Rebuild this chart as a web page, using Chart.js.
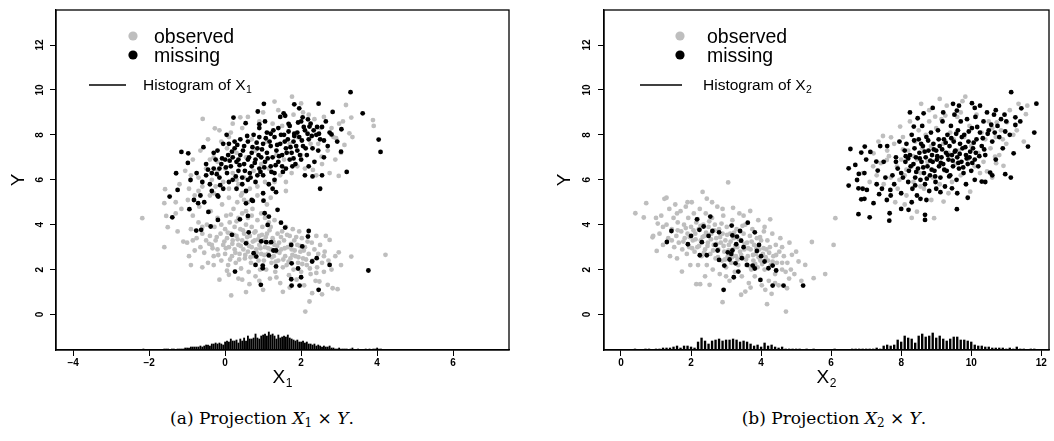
<!DOCTYPE html>
<html>
<head>
<meta charset="utf-8">
<script src="https://cdn.jsdelivr.net/npm/chart.js@4.4.1/dist/chart.umd.min.js"></script>
<style>
  html, body { margin: 0; padding: 0; background: #fff; }
  body { width: 1054px; height: 441px; position: relative; overflow: hidden; }
  .panel { position: absolute; top: 0; width: 527px; height: 400px; }
  .caption {
    position: absolute; top: 408px; width: 400px; text-align: center;
    font-family: "DejaVu Serif", "Liberation Serif", serif; font-size: 17px; color: #000;
  }
  .caption sub { font-size: 12px; vertical-align: -3px; line-height: 0; }
</style>
</head>
<body>
<div class="panel" style="left:0"><canvas id="chart1" width="527" height="400"></canvas></div>
<div class="panel" style="left:527px"><canvas id="chart2" width="527" height="400"></canvas></div>
<div class="caption" style="left:62px">(a) Projection <i>X</i><sub>1</sub> × <i>Y</i>.</div>
<div class="caption" style="left:634px">(b) Projection <i>X</i><sub>2</sub> × <i>Y</i>.</div>

<script>
// ---- data ----
const yTicks = [0, 2, 4, 6, 8, 10, 12];
const x1Ticks = [-4, -2, 0, 2, 4, 6];
const x2Ticks = [0, 2, 4, 6, 8, 10, 12];

// panel (a): X1 x Y, observed (grey)
const observed1 = [
  [-2.18,4.29],[-1.6,3.0],[-1.6,4.96],[-1.58,5.58],[-1.55,4.39],[-1.51,3.89],[-1.3,4.5],[-1.1,3.25],[-1.0,3.2],[-0.95,2.6],
  [-0.9,3.8],[-0.85,4.4],[-0.8,2.85],[-0.75,3.4],[-0.7,4.1],[-0.65,3.0],[-0.6,3.6],[-0.55,2.75],[-0.5,3.3],[-0.48,4.0],
  [-0.45,2.3],[-0.4,3.5],[-0.38,4.6],[-0.35,3.1],[-0.3,2.6],[-0.28,3.9],[-0.25,3.3],[-0.2,4.3],[-0.2,2.9],[-0.15,1.55],
  [-0.12,3.6],[-0.1,2.4],[-0.08,4.9],[-0.05,3.1],[0.0,3.8],[0.0,2.7],[0.03,4.4],[0.05,3.4],[0.08,2.2],[0.1,3.0],
  [0.1,1.77],[0.12,4.1],[0.15,3.6],[0.16,0.85],[0.18,2.6],[0.2,3.3],[0.22,4.7],[0.25,2.9],[0.25,3.9],[0.28,2.3],
  [0.3,3.5],[0.32,5.0],[0.35,3.1],[0.35,4.3],[0.38,2.7],[0.4,3.8],[0.42,2.05],[0.45,3.3],[0.45,4.5],[0.48,2.9],
  [0.5,3.6],[0.5,5.1],[0.52,2.5],[0.55,4.0],[0.57,3.2],[0.6,2.8],[0.6,4.3],[0.62,1.9],[0.64,1.35],[0.65,3.5],
  [0.68,2.3],[0.7,3.0],[0.7,3.9],[0.72,4.7],[0.75,2.6],[0.78,3.3],[0.8,3.7],[0.8,1.7],[0.82,2.9],[0.85,4.2],
  [0.88,2.4],[0.9,3.1],[0.9,3.5],[0.92,2.0],[0.95,2.7],[0.98,3.9],[1.0,3.3],[1.0,1.1],[1.02,2.4],[1.05,3.0],
  [1.05,4.3],[1.08,2.0],[1.1,3.6],[1.12,2.7],[1.15,3.2],[1.18,1.6],[1.2,2.9],[1.2,3.9],[1.22,2.3],[1.25,3.4],
  [1.28,2.6],[1.3,3.1],[1.3,4.2],[1.32,1.9],[1.35,2.8],[1.38,3.6],[1.4,2.4],[1.42,3.2],[1.45,1.4],[1.48,2.9],
  [1.5,3.7],[1.52,1.01],[1.52,2.1],[1.55,3.3],[1.58,2.6],[1.6,3.9],[1.62,2.2],[1.65,3.0],[1.68,1.75],[1.7,3.5],
  [1.72,2.5],[1.75,2.9],[1.78,3.8],[1.8,2.0],[1.82,3.3],[1.85,2.6],[1.88,1.55],[1.9,3.1],[1.92,2.3],[1.95,3.7],
  [1.98,2.8],[2.0,1.9],[2.02,3.4],[2.05,2.5],[2.08,1.3],[2.1,3.0],[2.11,0.13],[2.15,2.2],[2.18,3.5],[2.2,2.7],
  [2.22,0.58],[2.25,1.8],[2.28,3.2],[2.29,0.95],[2.3,2.4],[2.35,2.9],[2.38,1.5],[2.4,3.5],[2.42,2.1],[2.45,2.7],
  [2.48,1.47],[2.5,3.1],[2.55,2.3],[2.6,1.9],[2.62,2.8],[2.65,3.5],[2.7,1.32],[2.72,2.4],[2.75,3.32],[2.8,2.0],
  [2.83,1.17],[2.9,2.6],[2.96,1.13],[2.99,2.77],[3.05,2.2],[3.32,2.58],[4.22,2.66],[-1.25,3.7],[-1.15,4.7],[-0.98,5.1],
  [-0.68,4.8],[-0.3,5.4],[0.1,5.2],[0.42,5.3],[0.6,5.0],[0.85,5.3],[1.1,4.9],[-0.9,2.2],[-0.6,2.1],[0.35,1.6],
  [0.55,1.0],[1.7,1.2],[2.55,0.9],
  [-0.42,3.15],[-0.33,2.95],[-0.22,3.45],[-0.18,2.65],[-0.02,3.25],[0.02,2.95],[0.07,3.65],[0.13,2.45],[0.19,3.15],[0.23,3.55],
  [0.27,2.75],[0.33,3.35],[0.37,2.45],[0.41,3.05],[0.47,3.75],[0.53,2.65],[0.58,3.45],[0.63,3.05],[0.67,2.55],[0.73,3.25],
  [0.77,3.65],[0.83,2.75],[0.87,3.35],[0.93,2.95],[0.97,3.55],[1.03,2.65],[1.07,3.45],[1.13,2.95],[1.17,3.75],[1.23,2.55],
  [1.27,3.25],[1.33,2.35],[1.37,3.05],[1.43,2.75],[1.47,3.45],[1.53,2.45],[1.57,2.95],[1.63,3.55],[1.67,2.35],[1.73,3.15],
  [1.77,2.65],[1.83,2.85],[1.87,3.45],[1.93,2.55],[1.97,3.05],[2.03,2.25],[2.07,2.85],[2.13,2.45],[2.17,3.25],[2.23,2.05],
  [0.15,4.45],[0.55,4.6],[0.95,4.5],[-0.1,4.0],[0.3,4.15],[0.7,4.4],[1.15,4.1],[-0.6,3.9],[-0.85,3.3],[-0.3,2.2],
  [0.05,1.95],[0.45,1.55],[0.9,1.5],[1.35,1.65],[2.4,1.85],[2.6,2.6],
  [-0.59,8.71],[-0.27,8.29],[0.4,8.78],[1.3,9.48],[1.76,9.7],[2.0,9.4],[3.18,9.33],[3.32,8.77],[3.27,8.07],[3.89,8.66],
  [3.91,8.4],[3.14,7.55],[2.92,7.85],[2.54,7.03],[2.31,6.44],[2.99,6.17],[-1.3,5.0],[-1.2,5.8],[-1.05,6.4],[-0.95,5.6],
  [-0.85,6.9],[-0.8,5.3],[-0.7,6.1],[-0.65,7.3],[-0.6,5.7],[-0.5,6.5],[-0.45,7.8],[-0.4,5.3],[-0.35,6.0],[-0.3,7.0],
  [-0.25,5.7],[-0.2,6.4],[-0.1,7.7],[-0.05,5.9],[0.0,6.5],[0.05,7.4],[0.1,5.6],[0.15,8.1],[0.2,6.3],[0.3,7.2],
  [0.35,5.8],[0.45,8.3],[0.5,6.1],[0.55,7.0],[0.65,5.6],[0.7,7.8],[0.75,6.4],[0.85,5.7],[0.9,8.6],[0.95,6.7],
  [1.05,5.9],[1.1,7.7],[1.15,6.5],[1.25,8.5],[1.3,5.9],[1.35,7.1],[1.45,6.2],[1.5,8.4],[1.55,6.9],[1.6,5.9],
  [1.7,7.6],[1.75,6.3],[1.8,8.9],[1.9,6.6],[2.0,7.1],[2.05,9.0],[2.1,6.5],[2.2,8.9],[2.25,7.6],[2.35,8.7],
  [2.4,6.2],[2.5,8.3],[2.55,6.7],[2.6,8.8],[2.7,7.3],[2.75,6.3],[2.85,7.9],[2.9,6.9],[3.0,8.5],[3.05,7.2],
  [3.1,8.6],[1.4,9.1],[0.6,8.8],[0.2,8.5],[-0.15,8.2],[1.2,5.2],[1.6,5.5],[0.45,5.4],
  [-0.9,6.2],[-0.7,5.5],[-0.2,6.8],[0.3,6.0],[0.8,7.3],[1.9,7.9],[2.45,7.6],[2.8,8.3],[3.35,7.9],[1.0,9.0],
  [0.1,7.9],[-0.4,6.9]
];

// panel (a): missing (black)
const missing1 = [
  [3.3,9.9],[1.02,9.38],[2.46,9.39],[1.82,9.36],[0.86,9.04],[1.95,9.18],[2.83,9.02],[3.62,8.96],[1.54,8.96],[1.58,8.85],
  [0.22,8.77],[2.04,8.78],[2.18,8.69],[0.54,8.52],[0.9,8.47],[1.67,8.49],[2.22,8.37],[2.42,8.35],[3.06,8.25],[1.2,8.05],
  [1.82,8.05],[2.47,8.05],[2.75,8.1],[2.8,8.02],[0.04,8.0],[4.04,7.79],[4.09,7.24],[-1.15,7.24],[-0.97,7.18],[-1.29,6.29],
  [-1.46,5.25],[-1.25,5.55],[-1.39,4.33],[-0.91,5.99],[-0.98,6.75],[-0.82,5.1],[-0.71,4.96],[-0.94,4.69],[-0.76,3.74],[-0.63,3.77],
  [-0.44,4.57],[-0.57,7.45],[3.05,7.25],[3.2,6.35],[2.55,6.2],[2.5,5.6],[2.1,6.2],[2.3,6.15],[1.5,6.6],[2.6,7.75],
  [2.95,7.7],[2.7,7.5],
  [-0.6,5.9],[-0.5,6.2],[-0.4,5.8],[-0.3,6.5],[-0.35,5.5],[-0.25,6.9],[-0.2,7.3],[-0.15,6.1],[-0.1,6.7],[-0.05,5.6],
  [0.0,6.9],[0.05,6.3],[0.08,7.1],[0.1,5.9],[0.15,6.6],[0.2,7.0],[0.2,6.0],[0.25,7.4],[0.3,6.8],[0.3,5.6],
  [0.35,6.4],[0.4,7.1],[0.4,7.8],[0.45,6.1],[0.5,6.7],[0.5,7.5],[0.55,5.5],[0.6,6.9],[0.6,7.7],[0.65,6.3],
  [0.7,7.2],[0.7,6.6],[0.75,8.0],[0.8,6.9],[0.8,5.9],[0.85,7.4],[0.9,6.5],[0.9,7.9],[0.95,7.0],[1.0,6.2],
  [1.0,7.6],[1.05,6.8],[1.1,8.1],[1.1,7.2],[1.15,5.8],[1.2,6.6],[1.2,7.5],[1.25,7.0],[1.3,7.9],[1.3,6.3],
  [1.35,7.3],[1.4,8.3],[1.4,6.8],[1.45,7.6],[1.5,7.1],[1.55,8.0],[1.6,6.5],[1.6,7.4],[1.65,7.8],[1.7,6.9],
  [1.7,8.4],[1.75,7.2],[1.8,7.7],[1.85,6.7],[1.9,8.1],[1.9,7.3],[1.95,7.9],[2.0,6.9],[2.0,8.6],[2.05,7.5],
  [2.1,8.2],[2.15,7.1],[2.2,7.8],[2.25,8.5],[2.3,7.4],[2.35,6.8],[2.4,8.0],[2.45,7.3],[2.5,7.8],[2.6,7.0],
  [0.25,7.7],[-0.05,7.6],[-0.3,7.2],[-0.5,6.7],[-0.75,6.3],[-0.65,5.3],[-0.55,5.0],[-0.2,5.3],[0.6,6.0],[0.85,6.2],
  [0.35,6.9],[1.0,5.4],[1.25,5.6],[0.7,5.1],[0.9,8.3],[1.45,8.8],[1.05,8.6],
  [-0.45,6.45],[-0.22,6.25],[-0.08,6.95],[0.02,6.55],[0.12,6.85],[0.18,7.25],[0.28,6.15],[0.32,7.55],[0.38,6.65],[0.47,7.3],
  [0.52,6.4],[0.58,7.95],[0.63,7.0],[0.67,6.1],[0.72,7.45],[0.78,6.75],[0.83,7.65],[0.88,7.1],[0.93,6.35],[0.97,7.35],
  [1.03,6.55],[1.07,7.85],[1.12,6.95],[1.17,7.7],[1.22,6.35],[1.27,8.2],[1.33,6.65],[1.37,7.55],[1.42,7.05],[1.47,8.0],
  [1.52,6.35],[1.57,7.7],[1.62,7.2],[1.67,8.15],[1.72,7.45],[1.77,6.6],[1.82,7.95],[1.87,7.5],[1.92,8.55],[1.97,7.1],
  [2.02,7.75],[2.07,8.35],[2.12,7.4],[2.17,8.05],[2.28,7.95],[2.33,8.2],[2.55,8.35],[2.65,8.6],[0.1,7.6],[-0.35,6.3],
  [-0.15,6.5],[0.45,5.8],[1.3,6.0],[1.8,6.95],[2.2,6.6],
  [-0.13,5.76],[-0.18,5.25],[0.73,5.06],[1.01,5.07],[1.34,5.45],[0.55,4.95],
  [-0.19,4.21],[-0.38,3.92],[0.18,3.55],[0.39,4.24],[0.6,4.39],[0.55,3.17],[0.62,3.66],[0.75,2.73],[0.82,2.58],[0.8,2.21],
  [0.99,2.18],[0.99,2.06],[0.94,1.32],[1.04,4.51],[1.15,4.36],[1.38,4.66],[1.12,3.99],[1.47,4.09],[1.58,3.87],[0.95,3.26],
  [1.08,3.22],[1.21,3.22],[1.27,2.85],[1.34,2.85],[1.15,2.63],[1.34,2.14],[1.74,3.1],[1.75,2.28],[1.74,1.57],[1.75,1.29],
  [1.92,2.05],[1.96,1.29],[2.0,1.66],[2.03,3.03],[2.2,3.72],[2.18,3.47],[2.29,2.36],[2.41,2.51],[2.46,1.1],[2.75,2.21],
  [3.77,1.96],[0.26,1.91]
];

// panel (b): X2 x Y, observed (grey)
const observed2 = [
  [0.41,4.51],[0.65,4.32],[0.72,4.96],[0.9,3.44],[0.92,3.5],[1.02,2.83],[1.05,4.05],[1.1,3.6],[1.15,4.4],[1.2,3.1],
  [1.24,5.15],[1.3,5.2],[1.3,4.0],[1.35,3.4],[1.38,4.7],[1.4,2.6],[1.45,3.8],[1.5,4.3],[1.52,3.0],[1.55,4.9],
  [1.58,3.5],[1.6,2.5],[1.62,4.1],[1.65,3.2],[1.7,4.6],[1.72,3.7],[1.74,1.91],[1.75,2.9],[1.8,4.0],[1.82,3.4],
  [1.85,4.8],[1.88,2.7],[1.9,3.6],[1.92,4.3],[1.95,3.0],[1.98,2.2],[2.0,3.9],[2.02,5.0],[2.05,3.3],[2.08,4.5],
  [2.1,2.8],[2.12,3.6],[2.15,1.35],[2.15,4.1],[2.18,3.0],[2.2,2.2],[2.22,3.8],[2.25,4.7],[2.26,1.35],[2.28,3.3],
  [2.3,2.6],[2.33,5.46],[2.35,4.0],[2.38,3.5],[2.4,2.9],[2.42,4.5],[2.45,5.16],[2.45,2.2],[2.48,3.2],[2.5,3.9],
  [2.53,1.32],[2.55,2.7],[2.58,3.6],[2.6,4.3],[2.62,2.0],[2.65,3.1],[2.68,4.0],[2.7,2.5],[2.72,3.4],[2.75,4.8],
  [2.78,2.9],[2.8,3.8],[2.82,1.8],[2.85,3.2],[2.88,2.4],[2.9,0.55],[2.9,3.6],[2.92,4.4],[2.95,2.8],[2.98,3.3],
  [3.0,2.1],[3.02,3.9],[3.05,2.6],[3.06,5.88],[3.08,3.1],[3.1,1.5],[3.12,3.6],[3.15,2.3],[3.18,4.2],[3.2,2.9],
  [3.22,3.4],[3.25,1.9],[3.28,2.6],[3.3,3.8],[3.32,3.0],[3.35,2.2],[3.38,4.5],[3.4,2.8],[3.42,3.3],[3.43,0.88],
  [3.45,1.7],[3.48,2.5],[3.5,3.6],[3.52,2.9],[3.55,1.02],[3.55,4.0],[3.58,2.2],[3.6,3.2],[3.62,2.6],[3.65,1.4],
  [3.68,3.5],[3.69,4.61],[3.7,2.9],[3.72,2.0],[3.75,3.8],[3.78,2.4],[3.8,3.1],[3.82,1.7],[3.85,2.7],[3.88,3.4],
  [3.9,2.1],[3.92,4.2],[3.95,2.9],[3.98,2.4],[4.0,3.3],[4.02,1.3],[4.05,2.7],[4.08,3.7],[4.1,2.0],[4.12,1.1],
  [4.15,2.9],[4.17,0.46],[4.18,3.3],[4.2,2.4],[4.22,1.5],[4.25,3.0],[4.26,4.24],[4.28,2.2],[4.3,0.92],[4.32,3.6],
  [4.35,2.6],[4.4,1.8],[4.42,3.1],[4.45,2.3],[4.5,1.3],[4.52,2.8],[4.55,3.4],[4.6,2.0],[4.65,2.6],[4.71,0.13],
  [4.74,1.17],[4.75,2.3],[4.8,1.6],[4.81,3.2],[4.85,2.0],[4.88,2.66],[4.95,1.8],[5.07,2.36],[5.15,1.5],[5.26,2.21],
  [5.45,3.23],[5.5,1.62],[5.83,1.8],[6.07,3.1],[6.12,4.29],
  [1.62,3.75],[1.78,3.25],[1.85,3.85],[1.96,3.45],[2.03,2.95],[2.07,3.75],[2.13,3.35],[2.19,4.25],[2.23,3.05],[2.27,3.95],
  [2.33,3.45],[2.37,2.75],[2.43,3.65],[2.47,3.05],[2.52,4.15],[2.57,3.35],[2.63,2.85],[2.67,3.75],[2.73,3.15],[2.77,2.55],
  [2.83,3.45],[2.87,4.05],[2.93,3.05],[2.97,2.45],[3.03,3.55],[3.07,2.85],[3.13,3.25],[3.17,2.55],[3.23,3.65],[3.27,3.05],
  [3.33,2.45],[3.37,3.35],[3.43,2.65],[3.47,3.95],[3.53,3.15],[3.57,2.45],[3.63,2.95],[3.67,2.15],[3.73,3.25],[3.77,2.65],
  [3.83,2.25],[3.87,2.95],[3.93,2.55],[3.97,3.45],[4.03,2.25],[4.07,2.95],[4.13,2.55],[4.23,2.75],[4.33,2.35],[4.43,2.65],
  [4.6,2.3],[4.7,1.9],[1.2,3.9],[1.45,3.3],[1.0,4.3],[1.6,4.5],[2.9,4.7],[3.2,4.75],[3.5,4.4],[2.6,5.0],
  [1.9,5.0],[4.1,3.9],[4.6,3.0],[5.0,2.8],[3.0,1.7],[2.4,1.7],[3.7,1.2],[4.4,1.4],
  [9.83,9.7],[8.57,9.38],[11.35,9.38],[11.56,8.92],[11.02,8.56],[10.73,8.56],[7.48,7.95],[7.71,7.89],[7.97,8.37],[8.97,8.81],
  [9.26,8.86],[10.92,6.62],[10.71,6.74],[10.68,7.03],[10.45,6.37],[9.97,5.47],[9.21,5.03],[8.86,5.1],[8.94,4.29],[8.45,4.58],
  [7.83,5.0],[7.21,7.18],[7.42,6.74],[7.59,6.88],[7.88,6.59],[7.3,6.2],[7.5,5.8],[7.6,7.3],[7.7,6.1],[7.8,7.6],
  [7.9,5.6],[8.0,6.9],[8.05,7.9],[8.1,6.2],[8.15,5.3],[8.2,7.3],[8.25,8.6],[8.3,6.6],[8.35,5.9],[8.4,7.7],
  [8.45,6.9],[8.5,8.2],[8.55,6.3],[8.6,7.4],[8.65,5.6],[8.7,8.0],[8.75,6.8],[8.8,9.1],[8.85,7.5],[8.9,6.1],
  [9.0,8.3],[9.05,7.0],[9.1,5.8],[9.15,8.7],[9.2,7.6],[9.25,6.4],[9.3,9.3],[9.35,7.2],[9.4,8.1],[9.45,5.9],
  [9.5,7.8],[9.55,6.7],[9.6,8.8],[9.65,7.3],[9.7,6.2],[9.75,9.5],[9.8,7.9],[9.9,6.9],[9.95,8.4],[10.0,7.5],
  [10.1,6.6],[10.15,8.9],[10.2,7.2],[10.3,8.1],[10.35,6.8],[10.4,7.8],[10.5,8.6],[10.55,7.4],[10.6,6.1],[10.7,7.9],
  [10.8,7.1],[10.85,8.2],[11.0,7.6],[11.1,9.1],[11.2,8.0],[11.5,7.7],[11.6,9.3],[6.9,6.3],[7.1,5.9],[7.35,7.7],
  [8.1,4.9],[8.3,4.3],[9.1,9.6],
  [7.65,7.05],[8.05,7.35],[8.35,7.05],[8.15,6.45],[7.95,6.0],[8.55,5.7],[9.35,5.4],[10.25,6.3],[10.9,7.8],[10.6,8.3],
  [11.3,8.2],[7.2,6.6],[8.8,8.6],[9.7,9.0]
];

// panel (b): missing (black)
const missing2 = [
  [1.44,3.72],[1.31,3.23],[1.91,3.13],[2.17,4.24],[2.24,3.77],[2.36,3.92],[2.31,3.22],[2.25,2.64],[2.45,2.64],[2.55,4.36],
  [2.61,3.72],[2.76,2.85],[2.8,3.66],[2.8,2.43],[2.95,2.18],[2.93,1.1],[3.05,2.77],[3.15,2.7],[3.18,2.85],[3.16,3.96],
  [3.22,1.66],[3.18,3.52],[3.29,3.13],[3.31,3.47],[3.4,3.72],[3.43,3.29],[3.35,1.91],[3.27,2.28],[3.45,2.51],[3.6,2.21],
  [3.62,4.09],[3.82,3.66],[3.88,2.83],[3.94,3.1],[3.76,2.18],[3.82,2.05],[3.98,1.54],[4.1,2.36],[4.21,2.06],[4.33,2.18],
  [4.43,1.96],[4.33,1.29],[4.64,1.29],[5.2,1.29],[2.0,3.5],[2.7,3.1],[3.5,3.0],[3.1,2.45],[4.0,2.6],[2.5,3.5],
  [11.14,9.9],[11.86,9.39],[11.43,9.18],[11.8,8.1],[11.62,7.48],[11.21,7.18],[11.13,6.1],[10.97,6.25],[11.26,8.78],[11.26,8.44],
  [10.75,8.4],[11.1,8.0],[10.97,8.15],[10.3,5.92],[10.54,6.32],[9.59,4.69],[9.48,9.38],[10.02,9.41],[9.59,9.08],[8.64,8.96],
  [8.47,8.74],[8.36,8.37],[6.55,7.37],[6.86,7.21],[6.96,7.48],[7.12,7.24],[6.5,6.51],[6.69,6.66],[6.79,6.26],[6.5,5.74],
  [6.74,5.99],[6.78,5.62],[6.9,5.6],[7.02,5.55],[6.86,5.13],[6.95,5.15],[7.21,4.96],[7.1,4.33],[6.78,4.47],[7.37,5.36],
  [7.29,6.81],[7.33,6.41],[7.67,4.51],[7.66,4.18],[7.59,5.1],[7.69,5.55],[8.21,4.66],[8.68,4.44],[8.68,4.21],[8.72,5.1],
  [9.12,5.45],[9.45,5.62],
  [7.6,7.5],[7.75,6.2],[7.8,5.8],[7.85,7.0],[7.9,6.5],[7.95,7.7],[8.0,5.4],[8.05,6.1],[8.1,7.3],[8.12,6.8],
  [8.15,7.6],[8.2,5.9],[8.22,6.4],[8.25,7.1],[8.3,8.0],[8.32,5.6],[8.35,6.7],[8.38,7.4],[8.4,6.1],[8.42,7.0],
  [8.45,5.3],[8.48,6.5],[8.5,7.8],[8.52,7.2],[8.55,6.0],[8.58,6.8],[8.6,8.4],[8.62,7.5],[8.65,6.3],[8.68,5.8],
  [8.7,7.0],[8.72,7.9],[8.75,6.6],[8.78,7.3],[8.8,5.5],[8.82,6.2],[8.85,8.1],[8.88,7.1],[8.9,6.8],[8.92,7.6],
  [8.95,6.4],[8.98,5.9],[9.0,7.3],[9.02,6.9],[9.05,8.2],[9.08,6.6],[9.1,7.5],[9.12,6.1],[9.15,7.0],[9.18,8.6],
  [9.2,6.7],[9.22,7.8],[9.25,5.7],[9.28,7.2],[9.3,6.4],[9.32,8.0],[9.35,6.9],[9.38,7.5],[9.4,6.2],[9.42,8.4],
  [9.45,7.1],[9.48,6.6],[9.5,7.7],[9.52,8.9],[9.55,7.3],[9.58,6.0],[9.6,7.0],[9.62,8.2],[9.65,6.5],[9.68,7.6],
  [9.7,8.6],[9.72,6.8],[9.75,7.4],[9.78,6.3],[9.8,8.0],[9.85,7.1],[9.88,8.7],[9.9,6.7],[9.92,7.7],[9.95,7.0],
  [10.0,6.4],[10.02,8.3],[10.05,7.4],[10.1,6.9],[10.12,8.8],[10.15,7.8],[10.2,6.6],[10.25,8.1],[10.3,7.5],[10.35,8.6],
  [10.4,7.1],[10.45,9.0],[10.5,8.2],[10.6,7.7],[10.65,8.9],[10.7,6.9],[10.8,7.9],[10.85,8.7],[10.9,7.4],[11.0,8.6],
  [7.5,6.8],[7.4,7.5],[7.3,5.8],[7.0,6.9],[6.95,6.3],[7.45,5.6],[7.7,5.3],[8.0,4.7],[8.3,5.0],[8.55,5.15],
  [8.25,9.0],[8.9,9.2],[9.2,9.0],[9.65,9.3],[10.1,9.2],[10.7,9.1],[10.4,5.9],[10.1,6.0],[9.85,5.8],[9.9,5.2],
  [10.6,6.2],
  [8.13,7.05],[8.27,6.6],[8.37,7.75],[8.43,6.35],[8.53,6.95],[8.57,7.6],[8.63,6.55],[8.67,7.25],[8.73,6.05],[8.77,7.75],
  [8.83,6.85],[8.87,6.45],[8.93,7.35],[8.97,6.15],[9.03,7.05],[9.07,7.8],[9.13,6.75],[9.17,7.35],[9.23,6.45],[9.27,7.65],
  [9.33,7.1],[9.37,6.15],[9.43,7.85],[9.47,6.85],[9.53,7.25],[9.57,8.05],[9.63,6.75],[9.67,7.15],[9.73,7.9],[9.77,6.55],
  [9.83,7.45],[9.87,6.95],[9.93,8.15],[9.97,7.25],[10.03,6.75],[10.07,7.65],[10.13,7.2],[10.17,8.35],[10.23,7.05],[10.33,7.85],
  [10.37,7.35],[10.47,8.05],[10.57,8.45],[10.67,8.1],[8.0,6.3],[7.85,6.8],[8.2,6.95],[9.0,5.6],[8.4,5.75],[9.6,5.4],
  [10.25,9.3],[10.95,8.9],[11.4,8.6],[7.55,6.1]
];

// histograms drawn along the bottom (bar heights in Y units, 1 count = HIST_UNIT)
const hist1Start = -2.2, hist1Width = 0.05;
const hist1Counts = [
  0,1,0,0,0,0,0,0,0,0, 0,0,1,1,1,0,1,1,0,1, 1,1,1,2,2,2,3,3,3,3,
  3,4,3,4,5,5,4,6,6,7, 6,7,6,5,8,9,8,11,9,9, 10,7,11,9,12,9,14,11,11,12,
  16,12,11,14,15,16,14,18,15,16, 14,11,15,12,13,14,13,15,12,11, 10,9,10,8,8,9,7,8,6,6,
  5,6,4,5,4,3,4,3,3,4, 2,2,1,1,2,1,1,1,1,0, 1,2,0,0,1,0,0,0,1,0, 1,0,1,1,2,1,1,0,0
];
const hist2Start = 0.4, hist2Width = 0.1;
const hist2Counts = [
  1,0,0,1,1,0,1,1,2,2, 2,3,4,2,4,4,3,2,8,12, 9,6,9,10,11,9,10,10,11,10,
  8,9,8,6,4,5,3,7,4,5, 3,2,3,1,1,1,1,1,0,1, 0,1,0,0,0,0,0,1,0,0,
  0,0,1,1,1,1,1,1,1,2, 1,4,5,4,5,10,8,14,12,11, 7,14,16,13,14,17,12,14,11,9,
  11,13,13,10,10,9,8,5,4,4, 3,3,2,2,2,2,1,2,1,3, 1,1,0,1,1
];
const HIST_UNIT = 0.0445;

const Y_MIN = -1.58, Y_MAX = 13.56;
const GREY = '#bebebe';
const FONT = '"Liberation Sans", Arial, Helvetica, sans-serif';

function toPoints(list) {
  return list.map(p => ({ x: p[0], y: p[1] }));
}

function toBars(start, width, counts) {
  const bars = [];
  counts.forEach((c, i) => {
    if (c > 0) {
      bars.push({ x: +(start + i * width).toFixed(3), y: [Y_MIN, Y_MIN + c * HIST_UNIT] });
    }
  });
  return bars;
}

function drawSub(ctx, x, y, main, sub, size, subSize, drop) {
  ctx.font = size + 'px ' + FONT;
  ctx.fillText(main, x, y);
  const w = ctx.measureText(main).width;
  ctx.font = subSize + 'px ' + FONT;
  ctx.fillText(sub, x + w + 0.5, y + drop);
}

function subWidth(ctx, main, sub, size, subSize) {
  ctx.font = size + 'px ' + FONT;
  const w = ctx.measureText(main).width;
  ctx.font = subSize + 'px ' + FONT;
  return w + 0.5 + ctx.measureText(sub).width;
}

// box, rotated y labels, axis titles and legend
const panelPlugin = {
  id: 'panel',
  afterDraw(chart, args, opts) {
    const { ctx, chartArea: a, scales: { y } } = chart;
    ctx.save();
    ctx.strokeStyle = '#000';
    ctx.lineWidth = 1.3;
    ctx.strokeRect(a.left, a.top, a.right - a.left, a.bottom - a.top);

    ctx.fillStyle = '#000';
    ctx.textAlign = 'center';
    ctx.textBaseline = 'middle';
    ctx.font = 'bold 10px ' + FONT;
    yTicks.forEach(v => {
      ctx.save();
      ctx.translate(opts.yLabelX, y.getPixelForValue(v));
      ctx.rotate(-Math.PI / 2);
      ctx.fillText(String(v), 0, 0);
      ctx.restore();
    });

    // Y title
    ctx.save();
    ctx.translate(opts.yTitleX, (a.top + a.bottom) / 2);
    ctx.rotate(-Math.PI / 2);
    ctx.font = '19px ' + FONT;
    ctx.fillText('Y', 0, 0);
    ctx.restore();

    // X title
    ctx.textAlign = 'left';
    ctx.textBaseline = 'alphabetic';
    const tw = subWidth(ctx, 'X', opts.sub, 19, 12);
    drawSub(ctx, (a.left + a.right) / 2 - tw / 2, 383, 'X', opts.sub, 19, 12, 4);

    // legend
    const L = opts.legend;
    ctx.fillStyle = GREY;
    ctx.beginPath(); ctx.arc(L.dotX, L.obsY, 4.6, 0, Math.PI * 2); ctx.fill();
    ctx.fillStyle = '#000';
    ctx.beginPath(); ctx.arc(L.dotX, L.misY, 4.6, 0, Math.PI * 2); ctx.fill();
    ctx.font = '19.5px ' + FONT;
    ctx.fillText('observed', L.textX, L.obsY + 7);
    ctx.fillText('missing', L.textX, L.misY + 7);
    ctx.lineWidth = 1.3;
    ctx.beginPath(); ctx.moveTo(L.lineX0, 85); ctx.lineTo(L.lineX1, 85); ctx.stroke();
    drawSub(ctx, L.histX, 89.5, 'Histogram of X', opts.sub, 15.5, 10.5, 3.5);
    ctx.restore();
  }
};

function makeChart(id, cfg) {
  const tickFont = { family: FONT, size: 10, weight: 'bold' };
  return new Chart(document.getElementById(id), {
    type: 'scatter',
    data: {
      datasets: [
        { label: 'missing', data: toPoints(cfg.missing), order: 0,
          pointRadius: 2.4, pointBorderWidth: 0, pointBackgroundColor: '#000' },
        { label: 'observed', data: toPoints(cfg.observed), order: 1,
          pointRadius: 2.4, pointBorderWidth: 0, pointBackgroundColor: GREY },
        { type: 'bar', label: 'hist', data: cfg.bars, order: 2,
          backgroundColor: '#000', borderWidth: 0, barThickness: cfg.barWidth }
      ]
    },
    options: {
      responsive: false,
      animation: false,
      events: [],
      layout: { padding: { left: 0, top: 10, right: cfg.padRight, bottom: 0 } },
      plugins: {
        legend: { display: false },
        tooltip: { enabled: false },
        panel: cfg.panel
      },
      scales: {
        x: {
          type: 'linear', min: cfg.xMin, max: cfg.xMax, bounds: 'data', offset: false,
          grid: { offset: false, drawOnChartArea: false, drawTicks: true, tickLength: 6, color: '#000', lineWidth: 1 },
          border: { display: true, color: '#000', width: 1.3 },
          ticks: { font: tickFont, color: '#000', padding: 1, maxRotation: 0, autoSkip: false,
                   callback: v => v < 0 ? '\u2212' + Math.abs(v) : String(v) },
          afterBuildTicks: s => { s.ticks = cfg.xTicks.map(v => ({ value: v })); },
          afterFit: s => { s.height = 50; }
        },
        y: {
          type: 'linear', min: Y_MIN, max: Y_MAX, bounds: 'data', beginAtZero: false,
          grid: { drawOnChartArea: false, drawTicks: true, tickLength: 6, color: '#000', lineWidth: 1 },
          border: { display: true, color: '#000', width: 1.3 },
          ticks: { display: false },
          afterBuildTicks: s => { s.ticks = yTicks.map(v => ({ value: v })); },
          afterFit: s => { s.width = cfg.yWidth; }
        }
      }
    },
    plugins: [panelPlugin]
  });
}

makeChart('chart1', {
  observed: observed1, missing: missing1,
  bars: toBars(hist1Start, hist1Width, hist1Counts), barWidth: 1.2,
  xMin: -4.45, xMax: 7.47, xTicks: x1Ticks, yWidth: 56, padRight: 18,
  panel: { yLabelX: 40, yTitleX: 19, sub: '1',
    legend: { dotX: 133, obsY: 36, misY: 55, textX: 154, lineX0: 89, lineX1: 126, histX: 143 } }
});

makeChart('chart2', {
  observed: observed2, missing: missing2,
  bars: toBars(hist2Start, hist2Width, hist2Counts), barWidth: 1.7,
  xMin: -0.485, xMax: 12.22, xTicks: x2Ticks, yWidth: 77, padRight: 5,
  panel: { yLabelX: 60.5, yTitleX: 38, sub: '2',
    legend: { dotX: 153, obsY: 36, misY: 55, textX: 180, lineX0: 113, lineX1: 155, histX: 176 } }
});
</script>
</body>
</html>
